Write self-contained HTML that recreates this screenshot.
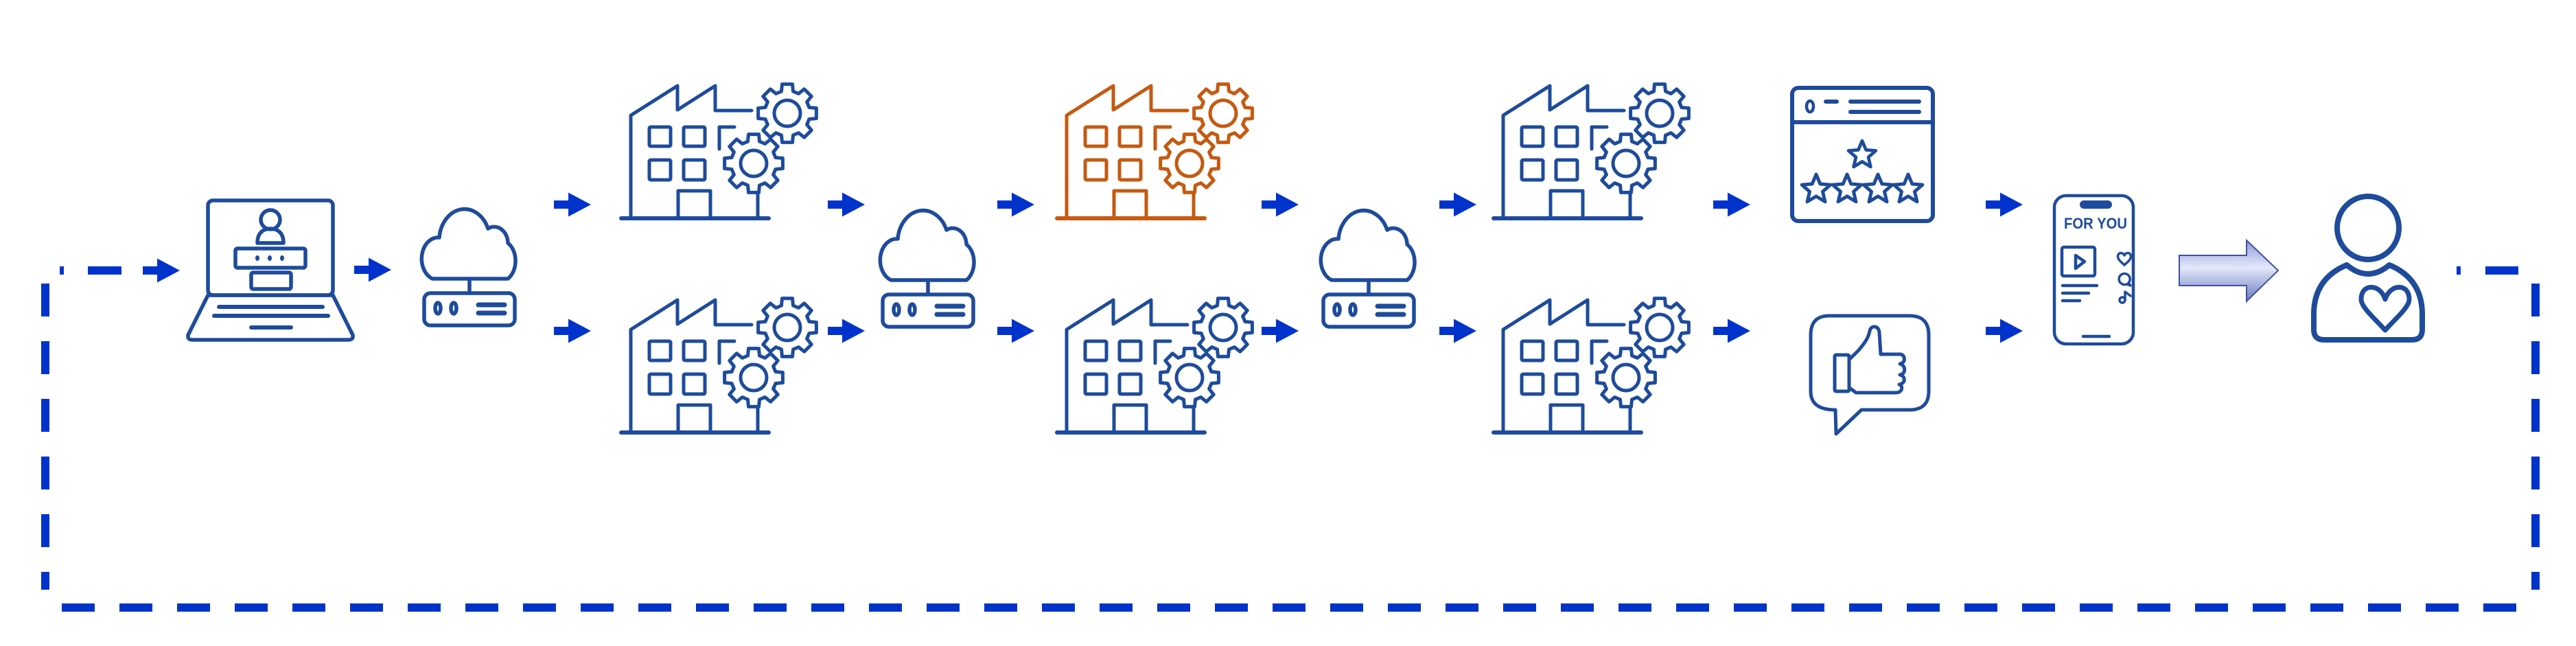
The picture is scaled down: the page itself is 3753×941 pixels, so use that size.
<!DOCTYPE html>
<html><head><meta charset="utf-8"><style>html,body{margin:0;padding:0;background:#fff;width:3753px;height:941px;overflow:hidden}svg{display:block}</style></head>
<body>
<svg width="3753" height="941" viewBox="0 0 3753 941" xmlns="http://www.w3.org/2000/svg">
<defs>
<g id="gear">
<polygon points="31.9,-8.5 42.4,-7.5 42.4,7.5 31.9,8.5 28.6,16.5 35.2,24.7 24.7,35.2 16.5,28.6 8.5,31.9 7.5,42.4 -7.5,42.4 -8.5,31.9 -16.5,28.6 -24.7,35.2 -35.2,24.7 -28.6,16.5 -31.9,8.5 -42.4,7.5 -42.4,-7.5 -31.9,-8.5 -28.6,-16.5 -35.2,-24.7 -24.7,-35.2 -16.5,-28.6 -8.5,-31.9 -7.5,-42.4 7.5,-42.4 8.5,-31.9 16.5,-28.6 24.7,-35.2 35.2,-24.7 28.6,-16.5" fill="#fff" stroke="currentColor" stroke-width="5" stroke-linejoin="round"/>
<circle r="19" fill="none" stroke="currentColor" stroke-width="5"/>
</g>
<g id="fac" fill="none" stroke="currentColor" stroke-width="5" stroke-linecap="round" stroke-linejoin="round">
<path d="M10,218 L225,218" stroke-width="6"/>
<path d="M24,218 L24,68 L92,25 L92,60 L147,25 L147,61 L200,61"/>
<rect x="51" y="85" width="31" height="28" rx="2"/>
<rect x="101" y="85" width="31" height="28" rx="2"/>
<rect x="51" y="133" width="31" height="29" rx="2"/>
<rect x="101" y="133" width="31" height="29" rx="2"/>
<path d="M153,117 L153,85 L175,85"/>
<path d="M93,218 L93,178 L140,178 L140,218"/>
<path d="M209,178 L209,218"/>
<use href="#gear" x="252" y="65"/>
<use href="#gear" x="203" y="138"/>
</g>
<g id="star"><polygon points="0,-20 5.3,-7.3 19,-6.2 8.6,2.8 11.8,16.2 0,9 -11.8,16.2 -8.6,2.8 -19,-6.2 -5.3,-7.3" fill="none" stroke="#1e4b9b" stroke-width="4.5" stroke-linejoin="round"/></g>
<linearGradient id="ag" x1="0" y1="0" x2="0" y2="1">
<stop offset="0" stop-color="#8d9bd6"/><stop offset="0.45" stop-color="#e4e9fa"/><stop offset="1" stop-color="#6a78bc"/>
</linearGradient>
<g id="arr"><polygon points="0,-6 21,-6 21,-17.5 54,0 21,17.5 21,6 0,6" fill="#0033cc"/></g>
</defs>

<!-- dashed feedback loop -->
<g fill="#0033cc">
<rect x="87" y="388" width="6" height="12"/>
<rect x="128" y="388" width="49" height="12"/>
<rect x="3579" y="388" width="6" height="12"/>
<rect x="3621" y="388" width="48" height="12"/>
</g>
<path d="M66,413 L66,859" stroke="#0033cc" stroke-width="12" stroke-dasharray="48 36"/>
<path d="M3694,413 L3694,859" stroke="#0033cc" stroke-width="12" stroke-dasharray="48 36"/>
<path d="M90,885 L3666,885" stroke="#0033cc" stroke-width="12" stroke-dasharray="48 36"/>

<!-- small arrows -->
<use href="#arr" x="208" y="394"/>
<use href="#arr" x="516" y="393"/>
<use href="#arr" x="807" y="298"/><use href="#arr" x="807" y="482"/>
<use href="#arr" x="1206" y="298"/><use href="#arr" x="1206" y="482"/>
<use href="#arr" x="1453" y="298"/><use href="#arr" x="1453" y="482"/>
<use href="#arr" x="1838" y="298"/><use href="#arr" x="1838" y="482"/>
<use href="#arr" x="2097" y="298"/><use href="#arr" x="2097" y="482"/>
<use href="#arr" x="2496" y="298"/><use href="#arr" x="2496" y="482"/>
<use href="#arr" x="2893" y="298"/><use href="#arr" x="2893" y="482"/>

<!-- laptop -->
<g fill="none" stroke="#1e4b9b" stroke-width="5.5" stroke-linecap="round" stroke-linejoin="round">
<rect x="303" y="292" width="182" height="138" rx="7"/>
<path d="M303,430 L485,430 L514,488 Q515,495 508,495 L280,495 Q273,495 274,488 Z"/>
<path d="M319,447 L470,447 M312,460 L478,460 M366,477 L424,477" stroke-width="6"/>
<ellipse cx="394" cy="320" rx="14" ry="14"/>
<path d="M375,354 Q375,334 394,333 Q413,334 413,354 Z"/>
<rect x="343" y="362" width="102" height="28" rx="3"/>
<rect x="366" y="397" width="58" height="24" rx="3"/>
</g>
<g fill="#1e4b9b"><ellipse cx="375" cy="376" rx="3" ry="4"/><ellipse cx="393" cy="376" rx="3" ry="4"/><ellipse cx="411" cy="376" rx="3" ry="4"/></g>

<!-- clouds -->
<g id="cloud" fill="none" stroke="#1e4b9b" stroke-width="5.5" stroke-linecap="round" stroke-linejoin="round">
<path d="M630,406 A24,31 0 0 1 640,346 A37,46 0 0 1 711,333 A20,24 0 0 1 740,354 A22,30 0 0 1 740,406 Z"/>
<path d="M684,406 L684,427"/>
<rect x="618" y="427" width="132" height="47" rx="9"/>
<ellipse cx="638" cy="449" rx="4" ry="8"/><ellipse cx="661" cy="449" rx="4" ry="8"/>
<path d="M697,444 L735,444 M697,456 L735,456" stroke-width="7"/>
</g>
<use href="#cloud" x="668" y="2"/>
<use href="#cloud" x="1310" y="2"/>

<!-- factories -->
<use href="#fac" x="895" y="100" style="color:#1e4b9b"/>
<use href="#fac" x="895" y="412" style="color:#1e4b9b"/>
<use href="#fac" x="1530" y="100" style="color:#c55a11"/>
<use href="#fac" x="1530" y="412" style="color:#1e4b9b"/>
<use href="#fac" x="2166" y="100" style="color:#1e4b9b"/>
<use href="#fac" x="2166" y="412" style="color:#1e4b9b"/>

<!-- review window -->
<g fill="none" stroke="#1e4b9b" stroke-width="6" stroke-linecap="round">
<rect x="2611" y="128" width="205" height="194" rx="9"/>
<path d="M2611,178 L2816,178"/>
<ellipse cx="2637" cy="155" rx="5" ry="8" stroke-width="4.5"/>
<path d="M2660,148 L2676,148 M2696,148 L2796,148 M2696,163 L2796,163"/>
</g>
<use href="#star" transform="translate(2713,226) scale(1.05)"/>
<use href="#star" transform="translate(2646,276) scale(1.1)"/>
<use href="#star" transform="translate(2691,276) scale(1.1)"/>
<use href="#star" transform="translate(2736,276) scale(1.1)"/>
<use href="#star" transform="translate(2780,276) scale(1.1)"/>

<!-- thumbs bubble -->
<g fill="none" stroke="#1e4b9b" stroke-width="5" stroke-linejoin="round" stroke-linecap="round">
<path d="M2665,460 L2782,460 Q2810,460 2810,488 L2810,570 Q2810,597 2782,597 L2712,597 L2675,632 L2674,597 Q2638,597 2638,570 L2638,488 Q2638,460 2665,460 Z"/>
<rect x="2673" y="517" width="21" height="53" rx="2"/>
<path d="M2696,522 L2708,510 C2718,498 2722,492 2724,482 C2726,473 2737,474 2738,484 L2740,516 L2768,516 C2776,516 2777,529 2768,530 C2777,532 2777,545 2768,546 C2777,548 2776,559 2767,560 C2773,562 2772,572 2762,572 L2704,572 L2696,566"/>
</g>

<!-- phone -->
<g fill="none" stroke="#1e4b9b" stroke-width="4.5" stroke-linecap="round" stroke-linejoin="round">
<rect x="2993" y="285" width="115" height="216" rx="17"/>
<rect x="3004" y="360" width="48" height="42" rx="3"/>
<path d="M3024,372 L3037,381 L3024,391 Z"/>
<path d="M3005,416 L3055,416 M3005,427 L3043,427 M3005,438 L3030,438 M3035,490 L3073,490"/>
<path d="M3095,386 C3088,380 3084,376 3086,371 C3088,367 3093,368 3095,372 C3097,368 3102,367 3104,371 C3106,376 3102,380 3095,386 Z" stroke-width="3.5"/>
<path d="M3101,412 A8,8 0 1 0 3098,414 L3104,416 Z" stroke-width="3.5"/>
<circle cx="3092" cy="437" r="4" stroke-width="3.5"/>
<path d="M3096,437 L3096,425 L3104,431" stroke-width="3.5"/>
</g>
<rect x="3030" y="292" width="47" height="12" rx="6" fill="#1e4b9b"/>
<text x="3053" y="333" text-anchor="middle" font-family="Liberation Sans, sans-serif" font-weight="bold" font-size="22" fill="#1e4b9b" textLength="92" lengthAdjust="spacingAndGlyphs">FOR YOU</text>

<!-- big gradient arrow -->
<polygon points="3175,372 3273,372 3273,350 3319,394 3273,439 3273,416 3175,416" fill="url(#ag)" stroke="#4050a0" stroke-width="2"/>

<!-- person -->
<g fill="none" stroke="#1e4b9b" stroke-width="8" stroke-linejoin="round">
<ellipse cx="3450" cy="332" rx="45" ry="46"/>
<path d="M3419,386 C3390,398 3372,420 3371,455 L3371,480 Q3371,495 3386,495 L3514,495 Q3529,495 3529,480 L3529,455 C3528,420 3510,398 3481,386 Q3450,412 3419,386 Z"/>
<path d="M3475,436 C3468,413 3440,412 3440,436 C3440,448 3462,466 3475,481 C3488,466 3510,448 3510,436 C3510,412 3482,413 3475,436 Z" stroke-width="7"/>
</g>
</svg>
</body></html>
